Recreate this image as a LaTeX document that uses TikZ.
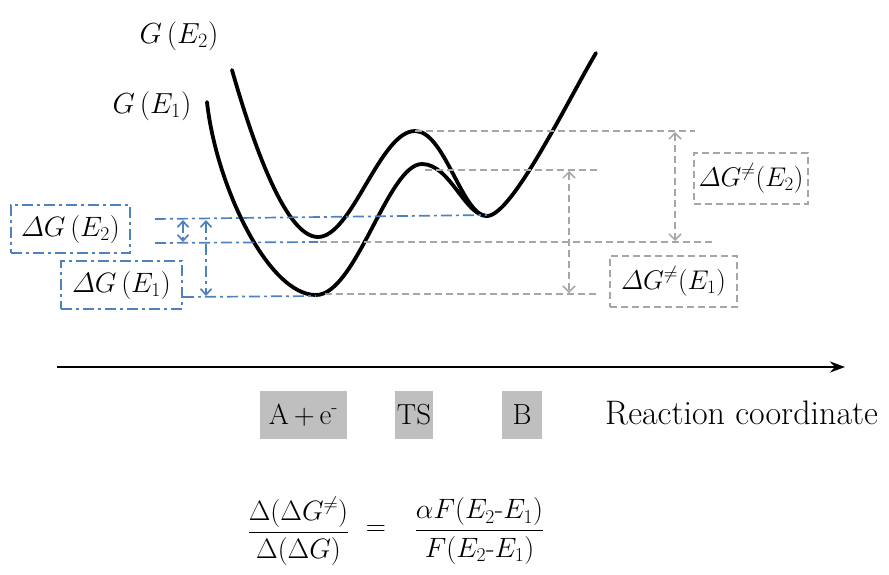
\RequirePackage{fix-cm}
\documentclass[tikz,border=0pt]{standalone}
\usepackage{amsmath}
\usetikzlibrary{arrows.meta}
\definecolor{lblue}{RGB}{79,129,189}
\definecolor{lgray}{RGB}{166,166,166}
\definecolor{boxgray}{RGB}{191,191,191}
\tikzset{
  txt/.style={font=\fontsize{26}{30}\selectfont, inner sep=0pt},
  bigtxt/.style={font=\fontsize{29}{32}\selectfont, inner sep=0pt},
  curve/.style={line width=3.8pt, line cap=round},
  bluedd/.style={lblue, line width=1.7pt, dash pattern=on 11pt off 4pt on 3pt off 4pt},
  graydash/.style={lgray, line width=1.5pt, dash pattern=on 7pt off 4pt},
  bluebox/.style={bigtxt, font=\fontsize{28}{32}\selectfont, draw, bluedd, text=black},
  graybox/.style={txt, font=\fontsize{27}{30}\selectfont, draw, graydash, text=black},
  statebox/.style={txt, font=\fontsize{29}{32}\selectfont, fill=boxgray, minimum height=48pt},
  gtip/.style={{Straight Barb[length=6pt,width=12pt]}-{Straight Barb[length=6pt,width=12pt]}},
  btip/.style={{Straight Barb[length=6pt,width=11pt]}-{Straight Barb[length=6pt,width=11pt]}},
}
\begin{document}
\begin{tikzpicture}[x=1pt,y=-1pt]
\useasboundingbox (0,0) rectangle (889,574);

% key points of the curves
\coordinate (s2) at (232,70);
\coordinate (m2) at (318,237);
\coordinate (t2) at (415,131);
\coordinate (bm) at (487,216);
\coordinate (e) at (596,53);
\coordinate (s1) at (207,102);
\coordinate (m1) at (316,295);
\coordinate (t1) at (422,164);

% curves
\draw[curve] (s2) .. controls (252,140) and (285,237) .. (m2)
  .. controls (352,237) and (380,131) .. (t2)
  .. controls (445,131) and (462,216) .. (bm)
  .. controls (512,216) and (568,100) .. (e);
\draw[curve] (s1) .. controls (216,185) and (268,295) .. (m1)
  .. controls (356,295) and (388,164) .. (t1)
  .. controls (450,164) and (465,216) .. (bm);

% gray dashed reference lines
\coordinate (g2a) at (415,131); \coordinate (g2b) at (695,131);
\coordinate (g1a) at (425,170); \coordinate (g1b) at (597,170);
\coordinate (h2a) at (320,242); \coordinate (h2b) at (712,242);
\coordinate (h1a) at (325,294); \coordinate (h1b) at (597,294);
\draw[graydash] (g2a) -- (g2b);
\draw[graydash] (g1a) -- (g1b);
\draw[graydash] (h2a) -- (h2b);
\draw[graydash] (h1a) -- (h1b);
\coordinate (ga2t) at (675,132); \coordinate (ga2b) at (675,241);
\coordinate (ga1t) at (569,171); \coordinate (ga1b) at (569,293);
\draw[graydash, gtip] (ga2t) -- (ga2b);
\draw[graydash, gtip] (ga1t) -- (ga1b);

% blue dash-dot lines
\coordinate (b1a) at (155,219); \coordinate (b1b) at (487,215);
\coordinate (b2a) at (155,243); \coordinate (b2b) at (318,242);
\coordinate (b3a) at (183,297); \coordinate (b3b) at (316,296);
\draw[bluedd] (b1a) -- (b1b);
\draw[bluedd] (b2a) -- (b2b);
\draw[bluedd] (b3a) -- (b3b);
\coordinate (ba1t) at (183,220); \coordinate (ba1b) at (183,242);
\coordinate (ba2t) at (206,220); \coordinate (ba2b) at (206,296);
\draw[bluedd, btip] (ba1t) -- (ba1b);
\draw[bluedd, btip] (ba2t) -- (ba2b);

% labels
\node[bigtxt] (ge2) at (179,36) {$G\,(E_2)$};
\node[bigtxt] (ge1) at (152,106) {$G\,(E_1)$};
\node[bluebox, minimum width=119pt, minimum height=48pt] (dge2) at (70.5,229) {$\varDelta G\,(E_2)$};
\node[bluebox, minimum width=121pt, minimum height=48pt] (dge1) at (121.5,285) {$\varDelta G\,(E_1)$};
\node[graybox, minimum width=114pt, minimum height=51pt] (dgs2) at (751,178.5) {$\varDelta G^{\neq}(E_2)$};
\node[graybox, minimum width=127pt, minimum height=51pt] (dgs1) at (673.5,281.5) {$\varDelta G^{\neq}(E_1)$};

% axis
\coordinate (ax0) at (57,367);
\coordinate (ax1) at (845,367);
\draw[line width=2.6pt, -{Stealth[length=15pt,width=11pt]}] (ax0) -- (ax1);

% state boxes
\node[statebox, minimum width=87pt] (sa) at (303.5,415) {A\,+\,e$^{\text{-}}$};
\node[statebox, minimum width=38pt] (sts) at (414,415) {TS};
\node[statebox, minimum width=40pt] (sb) at (522,415) {B};
\node[txt, font=\fontsize{34}{36}\selectfont, anchor=west] (rc) at (605,413) {Reaction coordinate};

% formula
\node[txt, font=\fontsize{28}{32}\selectfont] (f1) at (298.5,531) {$\dfrac{\Delta(\Delta G^{\neq})}{\Delta(\Delta G)}$};
\node[txt, font=\fontsize{28}{32}\selectfont] (feq) at (376,531) {$=$};
\node[txt, font=\fontsize{28}{32}\selectfont] (f2) at (479.5,531) {$\dfrac{\alpha F(E_2\text{-}E_1)}{F(E_2\text{-}E_1)}$};
\end{tikzpicture}
\end{document}
